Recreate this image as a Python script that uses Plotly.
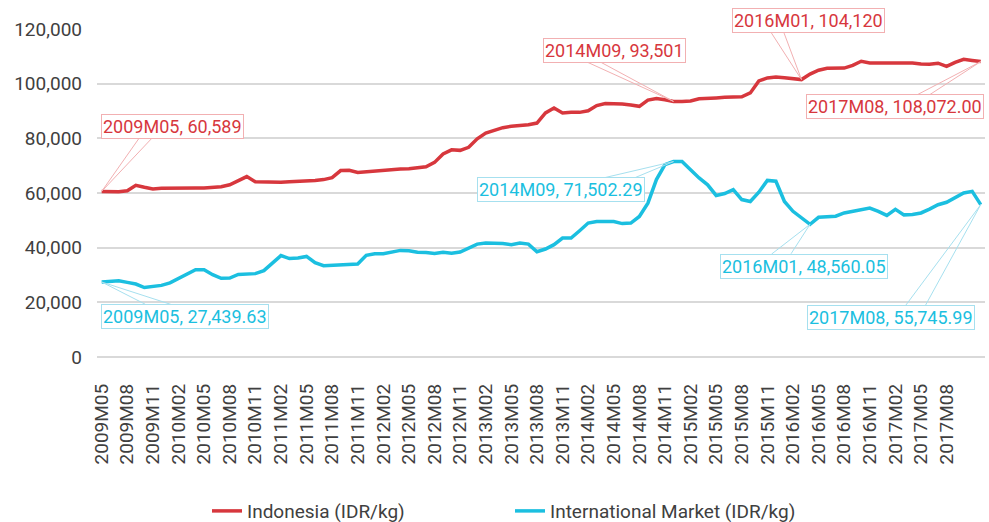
import plotly.graph_objects as go

# ---- data ----
indonesia = [
    60589, 60500, 60500, 60800, 62800, 62100, 61500, 61700, 61800, 61800,
    61800, 61800, 61800, 61900, 62300, 63000, 64600, 66000, 64100, 64000,
    63900, 63900, 64100, 64200, 64300, 64600, 64900, 65600, 68200, 68300,
    67500, 67800, 67900, 68300, 68600, 68800, 68900, 69300, 69600, 71200,
    74300, 75800, 75600, 76700, 79800, 81900, 82900, 83900, 84400, 84600,
    85000, 85600, 89300, 91100, 89300, 89500, 89500, 90100, 92000, 92700,
    92700, 92600, 92200, 91700, 94000, 94600, 94100, 93501, 93500, 93700,
    94500, 94800, 94800, 95000, 95100, 95200, 96600, 101000, 102100, 102400,
    102200, 101800, 101500, 103500, 104900, 105600, 105700, 105700, 106700, 108200,
    107600, 107600, 107600, 107500, 107500, 107600, 107200, 107100, 107500, 106300,
    107800, 108900, 108500, 108072,
]
international = [
    27439.63, 27700, 27900, 27300, 26700, 25400, 25800, 26200, 27100, 28600,
    30100, 31900, 31900, 30100, 28800, 28900, 30200, 30200, 30500, 31600,
    34400, 37100, 36000, 36200, 36800, 34500, 33400, 33500, 33800, 33800,
    34000, 37200, 37800, 37800, 38500, 39000, 38900, 38300, 38200, 37900,
    38300, 38000, 38400, 40000, 41300, 41700, 41700, 41500, 41100, 41700,
    41300, 38500, 39500, 41100, 43500, 43500, 46200, 49000, 49600, 49600,
    49600, 48800, 49000, 51400, 56300, 64900, 70400, 71502.29, 71500, 68500,
    65500, 63000, 59100, 59800, 61200, 57600, 56900, 60300, 64600, 64300,
    56900, 53300, 50900, 48560.05, 51100, 51200, 51500, 52700, 53300, 53900,
    54500, 53300, 51800, 54000, 52000, 52100, 52700, 54100, 55700, 56600,
    58200, 60000, 60600, 55745.99,
]
tick_labels = [
    "2009M05", "2009M08", "2009M11", "2010M02", "2010M05", "2010M08", "2010M11",
    "2011M02", "2011M05", "2011M08", "2011M11", "2012M02", "2012M05", "2012M08",
    "2012M11", "2013M02", "2013M05", "2013M08", "2013M11", "2014M02", "2014M05",
    "2014M08", "2014M11", "2015M02", "2015M05", "2015M08", "2015M11", "2016M02",
    "2016M05", "2016M08", "2016M11", "2017M02", "2017M05", "2017M08",
]
series_names = ["Indonesia (IDR/kg)", "International Market (IDR/kg)"]
y_ticks = [0, 20000, 40000, 60000, 80000, 100000, 120000]

# callouts: (index, label)
callouts_red = [(0, "2009M05, 60,589"), (67, "2014M09, 93,501"),
                (82, "2016M01, 104,120"), (103, "2017M08, 108,072.00")]
callouts_blue = [(0, "2009M05, 27,439.63"), (67, "2014M09, 71,502.29"),
                 (83, "2016M01, 48,560.05"), (103, "2017M08, 55,745.99")]

RED = "#d7373d"
BLUE = "#1bbfe0"
RED_LIGHT = "#f2b0b2"
BLUE_LIGHT = "#a6e0ef"

x = list(range(len(indonesia)))

fig = go.Figure()
fig.add_trace(go.Scatter(x=x, y=indonesia, mode="lines", name=series_names[0],
                         line=dict(color=RED, width=3.5)))
fig.add_trace(go.Scatter(x=x, y=international, mode="lines", name=series_names[1],
                         line=dict(color=BLUE, width=3.5)))

# callout geometry in pixels: box-centre offset, wedge tail offsets
red_layout = [((71, -65), (38, 51, -54)), ((-59, -51), (-90, -76, -41)),
              ((7, -59), (-31, -18, -48)), ((-86, 45), (-67, -54, 35))]
blue_layout = [((83, 34), (45, 71, 23)), ((-113, 28), (-77, -43, 18)),
               ((-6, 42), (-40, -20, 31)), ((-90, 113), (-76, -56, 102))]

annotations = []
boxes = []
for callouts, lay, series, col, light in [
        (callouts_red, red_layout, indonesia, RED, RED_LIGHT),
        (callouts_blue, blue_layout, international, BLUE, BLUE_LIGHT)]:
    for (idx, label), ((bx, by), (t1, t2, ty)) in zip(callouts, lay):
        for tx in (t1, t2):
            annotations.append(dict(x=idx, y=series[idx], xref="x", yref="y",
                                    text="", showarrow=True, arrowhead=0,
                                    arrowwidth=1, arrowcolor=light,
                                    ax=tx, ay=ty, axref="pixel", ayref="pixel"))
        boxes.append(dict(x=idx, y=series[idx], xref="x", yref="y", text=label,
                          showarrow=False, xshift=bx, yshift=-by,
                          xanchor="center", yanchor="middle",
                          font=dict(family="Roboto", size=18, color=col),
                          bgcolor="white", bordercolor=light, borderwidth=1,
                          borderpad=1))
annotations += boxes

fig.update_layout(
    width=989, height=522,
    margin=dict(l=97, r=4, t=29, b=165),
    paper_bgcolor="white", plot_bgcolor="white",
    font=dict(family="Roboto", size=19, color="#404040"),
    showlegend=True,
    legend=dict(orientation="h", xref="container", yref="container",
                x=0.2093, xanchor="left", y=0.021, yanchor="middle",
                font=dict(family="Roboto", size=19, color="#404040"),
                itemwidth=30, entrywidth=258, entrywidthmode="pixels"),
    annotations=annotations,
    hovermode=False,
)
fig.update_xaxes(range=[-0.55, 103.5], tickmode="array",
                 tickvals=list(range(0, 3 * len(tick_labels), 3)),
                 ticktext=tick_labels, tickangle=-90, showgrid=False,
                 zeroline=False, showline=False, ticks="",
                 ticklabelstandoff=22, automargin=False,
                 tickfont=dict(family="Roboto", size=19, color="#404040"))
fig.update_yaxes(range=[0, 120000], tickmode="array", tickvals=y_ticks,
                 ticktext=[f"{v:,}" for v in y_ticks], showgrid=True,
                 gridcolor="#d9d9d9", gridwidth=1.5, zeroline=True,
                 zerolinecolor="#d9d9d9", zerolinewidth=1.5, showline=False,
                 ticks="", ticklabelstandoff=14, automargin=False,
                 tickfont=dict(family="Roboto", size=19, color="#404040"))

fig.write_html("out.html", config={"displayModeBar": False},
               post_script="document.body.style.margin='0';"
                           "document.body.style.overflow='hidden';")
